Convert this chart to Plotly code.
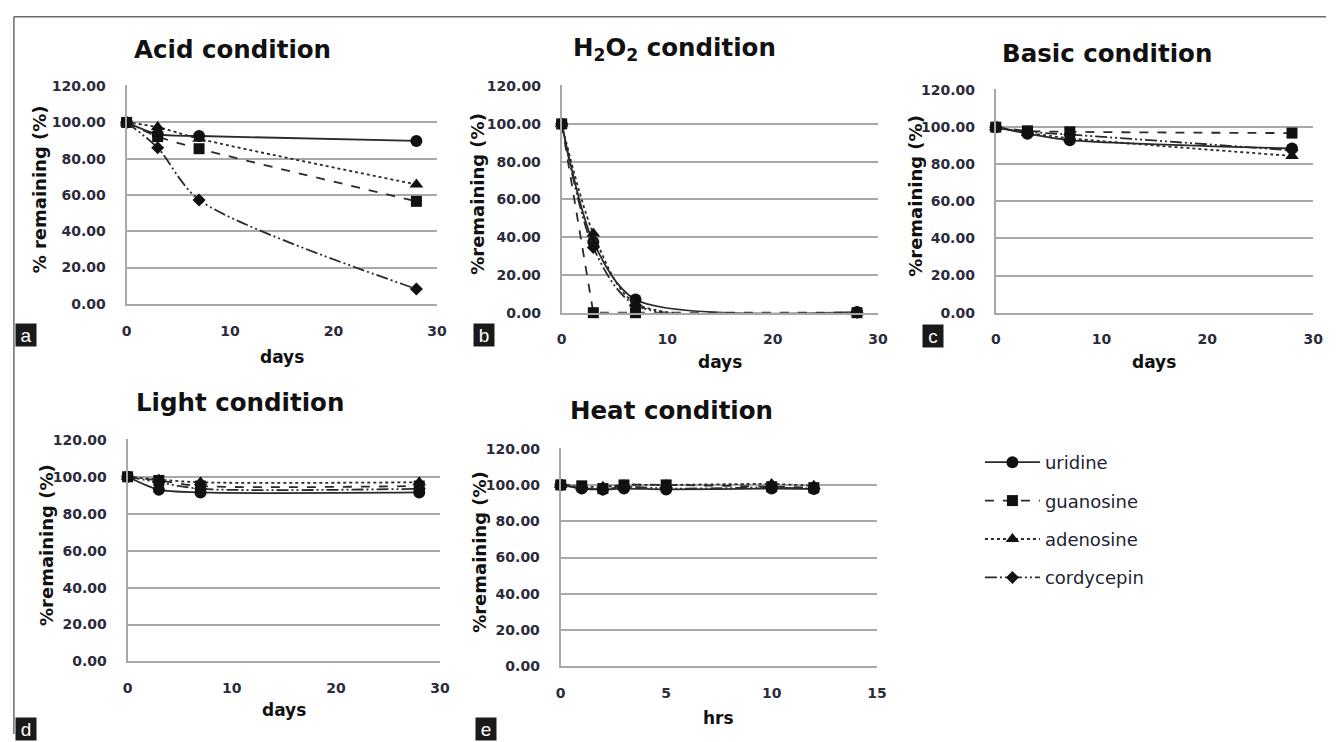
import plotly.graph_objects as go

W, H = 1336, 742

# ---------------- data ----------------
series_names = ["uridine", "guanosine", "adenosine", "cordycepin"]

acid_days = [0, 3, 7, 28]
acid_uridine = [100, 93.5, 92.5, 89.8]
acid_guanosine = [100, 92.2, 85.5, 56.5]
acid_adenosine = [100, 97.4, 91.0, 65.8]
acid_cordycepin = [100, 86.0, 57.3, 8.2]

h2o2_days = [0, 3, 7, 28]
h2o2_uridine = [100, 37.5, 7.0, 0.3]
h2o2_guanosine = [100, 0, 0, 0]
h2o2_adenosine = [100, 42.0, 5.0, 0.2]
h2o2_cordycepin = [100, 34.5, 4.0, 0.1]

basic_days = [0, 3, 7, 28]
basic_uridine = [100, 96.5, 93.0, 88.5]
basic_guanosine = [100, 98.0, 97.5, 96.8]
basic_adenosine = [100, 97.0, 94.0, 84.5]
basic_cordycepin = [100, 97.5, 96.0, 87.5]

light_days = [0, 3, 7, 28]
light_uridine = [100, 93.0, 91.5, 91.5]
light_guanosine = [100, 98.0, 95.0, 95.0]
light_adenosine = [100, 98.5, 97.0, 97.0]
light_cordycepin = [100, 97.0, 93.5, 93.5]

heat_hrs = [0, 1, 2, 3, 5, 10, 12]
heat_uridine = [100, 98.0, 97.5, 98.0, 97.5, 98.0, 97.8]
heat_guanosine = [100, 99.5, 98.0, 100.0, 100.0, 99.0, 98.5]
heat_adenosine = [100, 99.0, 99.0, 100.0, 100.0, 100.5, 99.5]
heat_cordycepin = [100, 98.5, 97.5, 99.0, 98.0, 98.5, 98.0]

y_ticks = [0, 20, 40, 60, 80, 100, 120]

# ---------------- styles ----------------
styles = {
    "uridine": dict(dash="solid", symbol="circle", size=12),
    "guanosine": dict(dash="dash", symbol="square", size=11),
    "adenosine": dict(dash="dot", symbol="triangle-up", size=12),
    "cordycepin": dict(dash="12px,3px,2px,3px,2px,3px", symbol="diamond", size=10),
}

panels = [
    dict(key="a", title="Acid condition", ytitle="% remaining (%)", xtitle="days",
         x=acid_days, ys=[acid_uridine, acid_guanosine, acid_adenosine, acid_cordycepin],
         xr=[0, 30], dt=10, px=(123, 437, 80, 303), ttl=(230, 43), ytx=35, xtl=357,
         lab=(10, 323)),
    dict(key="b", title="H<sub>2</sub>O<sub>2</sub> condition", ytitle="%remaining (%)", xtitle="days",
         x=h2o2_days, ys=[h2o2_uridine, h2o2_guanosine, h2o2_adenosine, h2o2_cordycepin],
         xr=[0, 30], dt=10, px=(563, 883, 80, 312), ttl=(677, 43), ytx=478, xtl=362,
         lab=(473, 323)),
    dict(key="c", title="Basic condition", ytitle="%remaining (%)", xtitle="days",
         x=basic_days, ys=[basic_uridine, basic_guanosine, basic_adenosine, basic_cordycepin],
         xr=[0, 30], dt=10, px=(1002, 1323, 84, 312), ttl=(1115, 47), ytx=920, xtl=362,
         lab=(927, 324)),
    dict(key="d", title="Light condition", ytitle="%remaining (%)", xtitle="days",
         x=light_days, ys=[light_uridine, light_guanosine, light_adenosine, light_cordycepin],
         xr=[0, 30], dt=10, px=(124, 440, 441, 668), ttl=(238, 404), ytx=42, xtl=718,
         lab=(10, 725)),
    dict(key="e", title="Heat condition", ytitle="%remaining (%)", xtitle="hrs",
         x=heat_hrs, ys=[heat_uridine, heat_guanosine, heat_adenosine, heat_cordycepin],
         xr=[0, 15], dt=5, px=(562, 882, 450, 673), ttl=(674, 412), ytx=480, xtl=726,
         lab=(475, 725)),
]


def fx(p):
    return p / W


def fy(p):
    return 1 - p / H


fig = go.Figure()
annotations = []
TICK_FONT = dict(family="DejaVu Sans", size=14, color="#2b2b3b", weight="bold")
GRID = "#a8a8a8"

for i, pn in enumerate(panels):
    n = "" if i == 0 else str(i + 1)
    xa, ya = "x" + n, "y" + n
    x0, x1, y0, y1 = pn["px"]
    fig.layout["xaxis" + n] = dict(
        domain=[fx(x0), fx(x1)], range=pn["xr"], dtick=pn["dt"], tick0=0,
        showgrid=False, zeroline=False, showline=True, linecolor=GRID, linewidth=2,
        ticks="", ticklabelstandoff=13, tickfont=TICK_FONT, anchor=ya, fixedrange=True,
    )
    fig.layout["yaxis" + n] = dict(
        domain=[fy(y1), fy(y0)], range=[0, 120.4], tickvals=y_ticks, tickformat=".2f",
        showgrid=True, gridcolor=GRID, gridwidth=2, zeroline=False,
        showline=True, linecolor=GRID, linewidth=2,
        ticks="", ticklabelstandoff=16, tickfont=TICK_FONT, anchor=xa, fixedrange=True,
    )
    for name, yv in zip(series_names, pn["ys"]):
        st = styles[name]
        shape = "linear" if (pn["key"] == "b" and name == "guanosine") else "spline"
        fig.add_trace(go.Scatter(
            x=pn["x"], y=yv, name=name, xaxis=xa, yaxis=ya,
            mode="lines+markers", legendgroup=name, showlegend=(i == 0),
            line=dict(color="#2a2a2a", width=1.8, dash=st["dash"], shape=shape, smoothing=0.8),
            marker=dict(symbol=st["symbol"], size=st["size"], color="#111111"),
            cliponaxis=False,
        ))
    # title
    annotations.append(dict(
        text="<b>" + pn["title"] + "</b>", x=fx(pn["ttl"][0]), y=fy(pn["ttl"][1]),
        xref="paper", yref="paper", showarrow=False, xanchor="center", yanchor="middle",
        font=dict(family="DejaVu Sans", size=24.5, color="#111111"),
    ))
    # y title
    annotations.append(dict(
        text="<b>" + pn["ytitle"] + "</b>", x=fx(pn["ytx"]), y=fy((y0 + y1) / 2 - 5),
        xref="paper", yref="paper", showarrow=False, xanchor="center", yanchor="middle",
        textangle=-90, font=dict(family="DejaVu Sans", size=18, color="#111111"),
    ))
    # x title
    annotations.append(dict(
        text="<b>" + pn["xtitle"] + "</b>", x=fx((x0 + x1) / 2), y=fy(pn["xtl"]),
        xref="paper", yref="paper", showarrow=False, xanchor="center", yanchor="middle",
        font=dict(family="DejaVu Sans", size=17, color="#111111"),
    ))
    # panel letter
    annotations.append(dict(
        text=pn["key"], x=fx(pn["lab"][0]), y=fy(pn["lab"][1]),
        xref="paper", yref="paper", showarrow=False, xanchor="left", yanchor="top",
        width=18, height=20, bgcolor="#1a1a1a", borderpad=1,
        font=dict(family="Liberation Sans", size=19, color="#ffffff"),
    ))

shapes = [
    dict(type="line", xref="paper", yref="paper", x0=fx(9), x1=1, y0=fy(10), y1=fy(10),
         line=dict(color="#6a6a6a", width=1.5)),
    dict(type="line", xref="paper", yref="paper", x0=fx(9), x1=fx(9), y0=fy(10), y1=0,
         line=dict(color="#6a6a6a", width=1.5)),
]

fig.update_layout(
    width=W, height=H, margin=dict(l=0, r=0, t=0, b=0),
    paper_bgcolor="white", plot_bgcolor="white",
    annotations=annotations, shapes=shapes,
    legend=dict(x=fx(986), y=fy(446), xanchor="left", yanchor="top",
                font=dict(family="DejaVu Sans", size=18, color="#222233"),
                itemwidth=55, tracegroupgap=12, bgcolor="rgba(0,0,0,0)"),
    showlegend=True,
)

fig.write_html("out.html")
